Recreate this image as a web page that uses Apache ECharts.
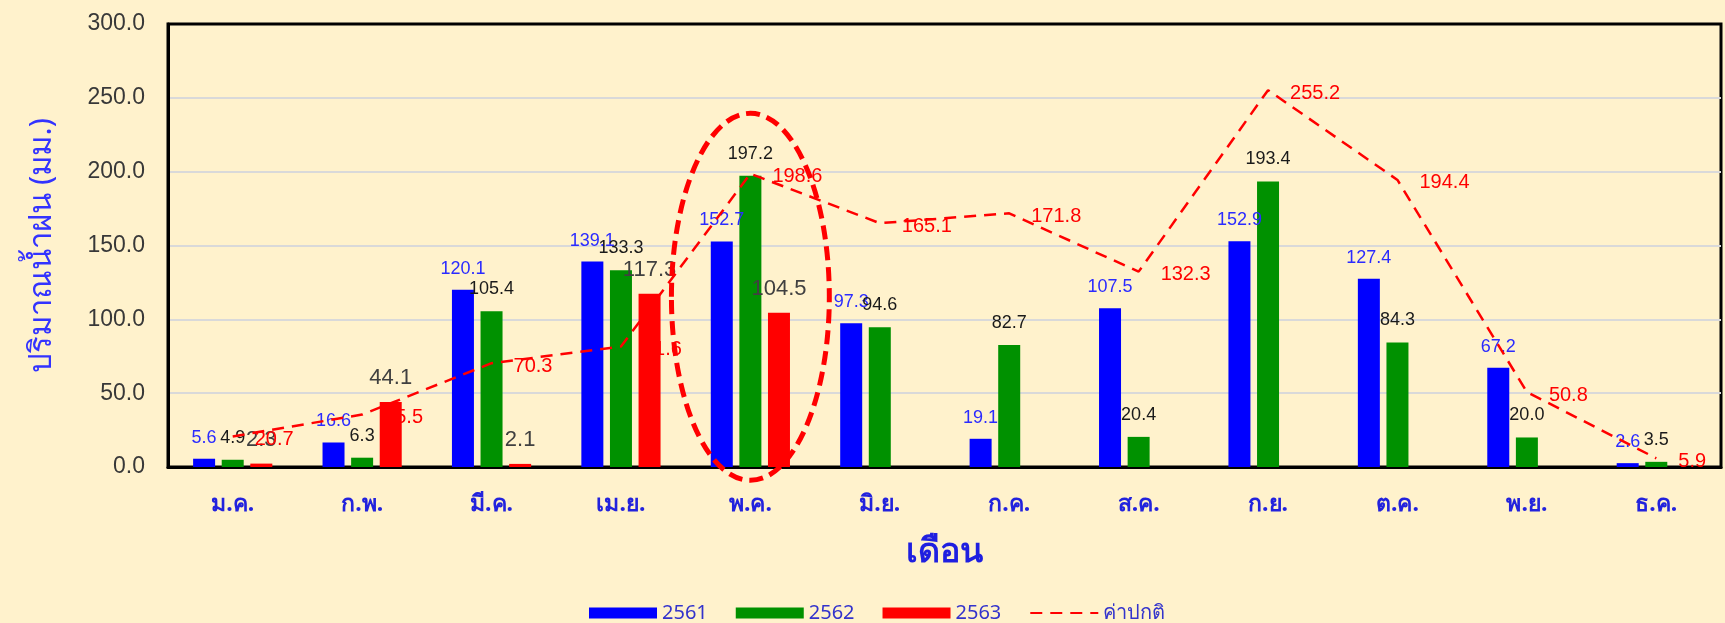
<!DOCTYPE html>
<html><head><meta charset="utf-8">
<script src="https://cdn.jsdelivr.net/npm/echarts@6/dist/echarts.min.js"></script>
<style>html,body{margin:0;padding:0;background:#FFF2CC}#c{width:1725px;height:623px}</style>
</head><body><div id="c"></div>
<script>
const months = ['ม.ค.','ก.พ.','มี.ค.','เม.ย.','พ.ค.','มิ.ย.','ก.ค.','ส.ค.','ก.ย.','ต.ค.','พ.ย.','ธ.ค.'];
const rain2561 = [5.6,16.6,120.1,139.1,152.7,97.3,19.1,107.5,152.9,127.4,67.2,2.6];
const rain2562 = [4.9,6.3,105.4,133.3,197.2,94.6,82.7,20.4,193.4,84.3,20.0,3.5];
const rain2563 = [2.3,44.1,2.1,117.3,104.5,null,null,null,null,null,null,null];
const normal = [20.7,35.5,70.3,81.6,198.6,165.1,171.8,132.3,255.2,194.4,50.8,5.9];
const yMin = 0, yMax = 300, yStep = 50;
const seriesNames = ['2561','2562','2563','ค่าปกติ'];
const highlightMonth = 'พ.ค.';
const highlightRange = [-9, 239.5];

const NUM = '"Liberation Sans", Arial, sans-serif';
const THAI = 'Tahoma, "Noto Sans", "DejaVu Sans", sans-serif';
const chart = echarts.init(document.getElementById('c'), null, {renderer:'canvas'});
const fmt = p => (p.value == null ? '' : Number(p.value).toFixed(1));

const option = {
  backgroundColor: '#FFF2CC',
  animation: false,
  grid: {left: 168, top: 24, right: 4, bottom: 156, show: true,
         backgroundColor: '#FFF2CC', borderColor: '#000', borderWidth: 3},
  legend: {
    left: 584, top: 598, itemWidth: 68, itemHeight: 11, itemGap: 28,
    textStyle: {color: '#3333CC', fontSize: 20, fontFamily: THAI},
    data: [{name: seriesNames[0], icon: 'rect'}, {name: seriesNames[1], icon: 'rect'},
           {name: seriesNames[2], icon: 'rect'}, {name: seriesNames[3], itemStyle: {opacity: 0}}]
  },
  xAxis: {
    type: 'category', data: months,
    axisLine: {lineStyle: {color: '#000', width: 3}}, axisTick: {show: false},
    axisLabel: {color: '#2222DD', fontWeight: 'bold', fontSize: 23, fontFamily: THAI, margin: 26},
    name: 'เดือน', nameLocation: 'middle', nameGap: 68,
    nameTextStyle: {color: '#1F1FE0', fontWeight: 'bold', fontSize: 34, fontFamily: THAI}
  },
  yAxis: {
    type: 'value', min: yMin, max: yMax, interval: yStep,
    axisLine: {show: true, lineStyle: {color: '#000', width: 3}}, axisTick: {show: false},
    axisLabel: {color: '#383838', fontSize: 23, fontFamily: NUM, margin: 23, formatter: v => v.toFixed(1)},
    splitLine: {show: true, showMinLine: false, showMaxLine: false, lineStyle: {color: '#D9D9D9', width: 2}},
    name: 'ปริมาณน้ำฝน (มม.)', nameLocation: 'middle', nameGap: 110, nameRotate: 90,
    nameTextStyle: {color: '#3333FF', fontSize: 31, fontFamily: THAI}
  },
  series: [
    {name: seriesNames[0], type: 'bar', data: rain2561, barWidth: 22, barGap: '30%',
     itemStyle: {color: '#0000FF'},
     label: {show: true, position: 'top', distance: 12, color: '#2B2BFF', fontSize: 18, fontFamily: NUM, formatter: fmt}},
    {name: seriesNames[1], type: 'bar', data: rain2562, barWidth: 22, barGap: '30%',
     itemStyle: {color: '#009100'},
     label: {show: true, position: 'top', distance: 13, color: '#1A1A1A', fontSize: 18, fontFamily: NUM, formatter: fmt}},
    {name: seriesNames[2], type: 'bar', data: rain2563, barWidth: 22, barGap: '30%',
     itemStyle: {color: '#FF0000'},
     label: {show: true, position: 'top', distance: 13, color: '#404040', fontSize: 22, fontFamily: NUM, formatter: fmt}},
    {name: seriesNames[3], type: 'line', data: normal, symbol: 'circle', symbolSize: 0, showSymbol: true,
     lineStyle: {color: '#FF0000', width: 2.5, type: [12, 8]},
     itemStyle: {color: '#FF0000'},
     label: {show: true, position: 'right', distance: 22, offset: [0, 3], color: '#FF0000', fontSize: 20, fontFamily: NUM, formatter: fmt}}
  ]
};
chart.setOption(option);

const cx = chart.convertToPixel({xAxisIndex: 0}, highlightMonth);
const catW = chart.convertToPixel({xAxisIndex: 0}, months[1]) - chart.convertToPixel({xAxisIndex: 0}, months[0]);
const yTop = chart.convertToPixel({yAxisIndex: 0}, highlightRange[1]);
const yBot = chart.convertToPixel({yAxisIndex: 0}, highlightRange[0]);
chart.setOption({graphic: [{
  type: 'ellipse', z: 100,
  shape: {cx: cx, cy: (yTop + yBot) / 2, rx: catW * 0.61, ry: (yBot - yTop) / 2},
  style: {fill: 'none', stroke: '#FF0000', lineWidth: 5, lineDash: [14, 7]}
}]});
</script>
</body></html>
